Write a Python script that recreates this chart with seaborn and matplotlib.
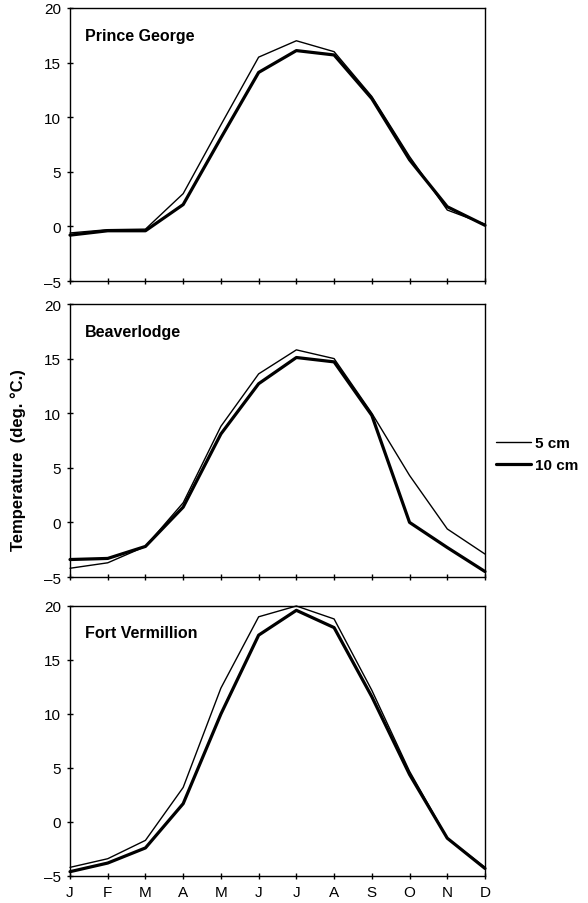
import matplotlib
matplotlib.use("Agg")
import matplotlib.pyplot as plt
import seaborn as sns
import pandas as pd
import numpy as np

months = ["J", "F", "M", "A", "M", "J", "J", "A", "S", "O", "N", "D"]
stations = ["Prince George", "Beaverlodge", "Fort Vermillion"]

pg_5cm = [-0.6, -0.3, -0.25, 3.0, 9.3, 15.5, 17.0, 16.0, 11.9, 6.4, 1.5, 0.2]
pg_10cm = [-0.8, -0.4, -0.4, 2.0, 8.1, 14.1, 16.1, 15.7, 11.7, 6.1, 1.8, 0.1]
bl_5cm = [-4.2, -3.7, -2.2, 1.8, 8.8, 13.6, 15.8, 15.0, 10.0, 4.3, -0.6, -2.9]
bl_10cm = [-3.4, -3.3, -2.2, 1.4, 8.1, 12.7, 15.1, 14.7, 9.8, 0.0, -2.3, -4.5]
fv_5cm = [-4.2, -3.4, -1.7, 3.2, 12.4, 19.0, 20.0, 18.8, 12.2, 4.7, -1.5, -4.2]
fv_10cm = [-4.6, -3.8, -2.4, 1.7, 10.0, 17.3, 19.6, 18.0, 11.6, 4.4, -1.5, -4.3]

yticks = [-5, 0, 5, 10, 15, 20]
ytick_labels = ["\u20135", "0", "5", "10", "15", "20"]
depth_labels = ["5 cm", "10 cm"]

series = {
    "Prince George": (pg_5cm, pg_10cm),
    "Beaverlodge": (bl_5cm, bl_10cm),
    "Fort Vermillion": (fv_5cm, fv_10cm),
}

rows = []
for st in stations:
    for dl, vals in zip(depth_labels, series[st]):
        for i, v in enumerate(vals):
            rows.append({"station": st, "depth": dl, "month": i, "temp": v})
df = pd.DataFrame(rows)

sns.set_style("ticks")
plt.rcParams["font.family"] = ["Liberation Sans", "DejaVu Sans"]
plt.rcParams["text.color"] = "black"
plt.rcParams["xtick.color"] = "black"
plt.rcParams["ytick.color"] = "black"
plt.rcParams["axes.labelcolor"] = "black"

fig = plt.figure(figsize=(5.88, 9.04), dpi=100)
W, H = 588, 904
left, right = 70 / W, 485 / W
panel_px = [(9, 282), (305, 578), (607, 877)]
axes = []
for (t, b) in panel_px:
    ax = fig.add_axes([left, 1 - b / H, right - left, (b - t) / H])
    axes.append(ax)

for ax, st in zip(axes, stations):
    sub = df[df.station == st]
    sns.lineplot(data=sub, x="month", y="temp", hue="depth", size="depth",
                 sizes={"5 cm": 1.0, "10 cm": 2.3},
                 palette={"5 cm": "black", "10 cm": "black"},
                 hue_order=depth_labels, size_order=depth_labels,
                 ax=ax, legend=(st == "Beaverlodge"), clip_on=False)
    ax.set_xlim(0, 11)
    ax.set_ylim(-5, 20)
    ax.set_yticks(yticks)
    ax.set_yticklabels(ytick_labels, fontsize=11)
    ax.set_xticks(range(12))
    ax.set_xlabel("")
    ax.set_ylabel("")
    ax.tick_params(direction="inout", length=5, width=1, color="black",
                   labelcolor="black", pad=4)
    for sp in ax.spines.values():
        sp.set_visible(True)
        sp.set_linewidth(1.0)
        sp.set_color("black")
    ax.text(0.035, 0.90, st, transform=ax.transAxes, fontsize=11.5,
            fontweight="bold", ha="left", va="center", color="black")
    if st == "Fort Vermillion":
        ax.set_xticklabels(months, fontsize=11)
    else:
        ax.set_xticklabels([])

leg = axes[1].get_legend()
handles, labels = axes[1].get_legend_handles_labels()
leg.remove()
lg = axes[1].legend(handles, labels, loc="center left", bbox_to_anchor=(1.0, 0.45),
                    frameon=False, handlelength=2.3, handletextpad=0.25,
                    labelspacing=0.55, borderaxespad=0.3,
                    prop={"weight": "bold", "size": 11})
for t in lg.get_texts():
    t.set_color("black")

fig.text(18 / W, 1 - 460 / H, "Temperature  (deg. °C.)", rotation=90,
         fontsize=12, fontweight="bold", ha="center", va="center", color="black")

fig.savefig("out.png", dpi=100)
